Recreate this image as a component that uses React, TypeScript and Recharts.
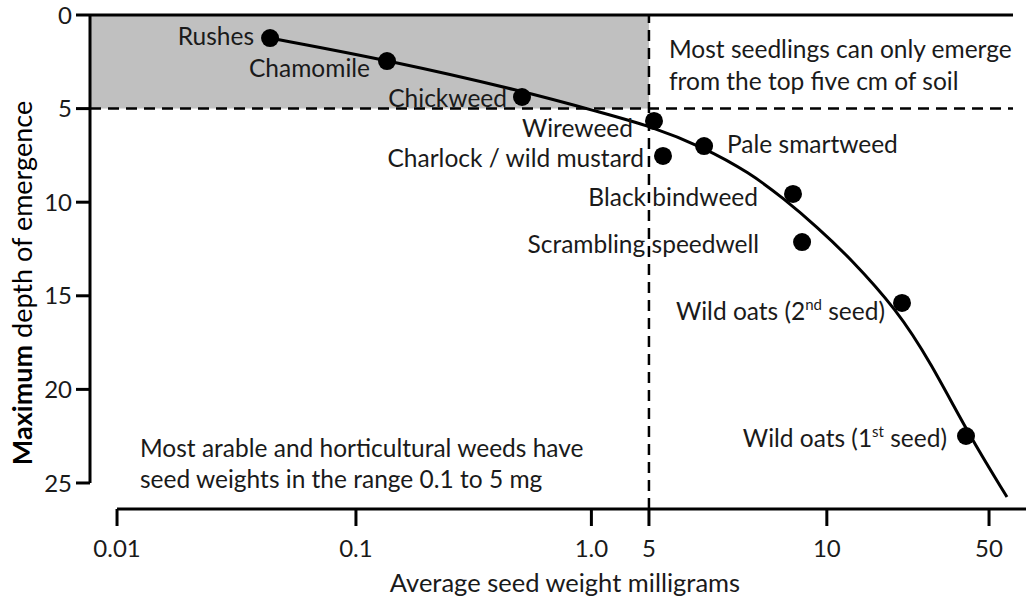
import React from 'react';
import { ComposedChart, Line, Scatter, XAxis, YAxis, ReferenceArea, ReferenceLine } from 'recharts';

// x is a position along the drawn (non-uniform) seed weight axis: 0 = 0.01 mg, 100 = 50 mg
const xTickPos = [0, 27.4, 54.4, 61.0, 81.4, 100];
const xTickLabels = ['0.01', '0.1', '1.0', '5', '10', '50'];
const yTicks = [0, 5, 10, 15, 20, 25];

const weedNames = [
  'Rushes',
  'Chamomile',
  'Chickweed',
  'Wireweed',
  'Charlock / wild mustard',
  'Pale smartweed',
  'Black bindweed',
  'Scrambling speedwell',
  'Wild oats (2nd seed)',
  'Wild oats (1st seed)',
];
const weedPos = [17.55, 30.96, 46.44, 61.58, 62.61, 67.32, 77.52, 78.56, 90.02, 97.36];
const weedDepth = [1.23, 2.46, 4.38, 5.66, 7.53, 7.0, 9.56, 12.13, 15.38, 22.49];

// fitted trend line
const curvePos = [17.55, 30.96, 46.56, 55.73, 61.12, 67.2, 72.59, 76.38, 80.28, 84.06, 89.45, 93.23, 97.82, 102.06];
const curveDepth = [1.23, 2.4, 4.06, 5.24, 5.93, 7.05, 8.44, 9.78, 11.32, 12.98, 15.76, 18.5, 22.54, 25.75];

const X_MIN = -3.1;
const X_MAX = 104.24;
const X_FRAME_END = 102.75;
const Y_MAX = 26.39;
const SHALLOW_DEPTH = 5;
const FIVE_MG = 61.0;

const weeds = weedNames.map((name, i) => ({ name, x: weedPos[i], y: weedDepth[i] }));
const curve = curvePos.map((x, i) => ({ x, y: curveDepth[i] }));

const FONT = 'Lato, "Open Sans", sans-serif';
const TEXT = '#1a1a1a';

// [gap from dot centre (negative = text on the right), baseline shift]
const labelPlace: Record<string, [number, number]> = {
  Rushes: [16, 7],
  Chamomile: [17, 16],
  Chickweed: [15, 10],
  Wireweed: [21, 16],
  'Charlock / wild mustard': [19, 11],
  'Pale smartweed': [-23, 7],
  'Black bindweed': [35, 12],
  'Scrambling speedwell': [43, 11],
  'Wild oats (2nd seed)': [17, 17],
  'Wild oats (1st seed)': [19, 11],
};

const renderName = (name: string) => {
  const m = name.match(/^(.*\d)(st|nd|rd|th)(.*)$/);
  if (!m) return name;
  return (
    <>
      {m[1]}
      <tspan dy={-10} fontSize={15}>{m[2]}</tspan>
      <tspan dy={10}>{m[3]}</tspan>
    </>
  );
};

const WeedDot = (props: any) => {
  const { cx, cy, payload } = props;
  const [gap, dy] = labelPlace[payload.name] ?? [16, 8];
  return (
    <g>
      <circle cx={cx} cy={cy} r={9} fill="#000" />
      <text
        x={cx - gap}
        y={cy + dy}
        textAnchor={gap < 0 ? 'start' : 'end'}
        fontFamily={FONT}
        fontSize={24.5}
        fill={TEXT}
      >
        {renderName(payload.name)}
      </text>
    </g>
  );
};

const tickFmt = (v: number) => xTickLabels[xTickPos.indexOf(v)] ?? '';

export default function App() {
  return (
    <div style={{ position: 'absolute', left: 0, top: 0, width: 1026, height: 604, background: '#fff' }}>
      <ComposedChart width={1026} height={604} margin={{ top: 15, right: 0, bottom: 35, left: 30 }}>
        <XAxis
          type="number"
          dataKey="x"
          domain={[X_MIN, X_MAX]}
          ticks={xTickPos}
          tickFormatter={tickFmt}
          allowDataOverflow
          axisLine={false}
          tickSize={17}
          tickMargin={14}
          height={60}
          tickLine={{ stroke: '#000', strokeWidth: 3 }}
          tick={{ fill: TEXT, fontSize: 24, fontFamily: FONT }}
        />
        <YAxis
          type="number"
          dataKey="y"
          domain={[0, Y_MAX]}
          reversed
          ticks={yTicks}
          allowDataOverflow
          axisLine={false}
          width={60}
          tickSize={14}
          tickMargin={4}
          tickLine={{ stroke: '#000', strokeWidth: 3 }}
          tick={{ fill: TEXT, fontSize: 24, fontFamily: FONT }}
        />
        <ReferenceArea x1={X_MIN} x2={FIVE_MG} y1={0} y2={SHALLOW_DEPTH} fill="#c0c0c0" fillOpacity={1} stroke="none" />
        <ReferenceLine segment={[{ x: X_MIN, y: 0 }, { x: X_FRAME_END, y: 0 }]} stroke="#000" strokeWidth={3} />
        <ReferenceLine segment={[{ x: X_MIN, y: 0 }, { x: X_MIN, y: 25 }]} stroke="#000" strokeWidth={3} />
        <ReferenceLine segment={[{ x: xTickPos[0], y: Y_MAX }, { x: X_MAX, y: Y_MAX }]} stroke="#000" strokeWidth={3} />
        <ReferenceLine
          segment={[{ x: X_MIN, y: SHALLOW_DEPTH }, { x: X_FRAME_END, y: SHALLOW_DEPTH }]}
          stroke="#000"
          strokeWidth={2.5}
          strokeDasharray="11 7"
        />
        <ReferenceLine x={FIVE_MG} stroke="#000" strokeWidth={2.5} strokeDasharray="11 7" />
        <Line
          data={curve}
          dataKey="y"
          type="basis"
          stroke="#000"
          strokeWidth={3}
          dot={false}
          activeDot={false}
          isAnimationActive={false}
        />
        <Scatter data={weeds} dataKey="y" shape={WeedDot} isAnimationActive={false} />

        <text fontFamily={FONT} fontSize={24.5} fill={TEXT}>
          <tspan x={669} y={58}>Most seedlings can only emerge</tspan>
          <tspan x={669} y={90}>from the top five cm of soil</tspan>
        </text>
        <text fontFamily={FONT} fontSize={24.5} fill={TEXT}>
          <tspan x={140} y={457}>Most arable and horticultural weeds have</tspan>
          <tspan x={140} y={488}>seed weights in the range 0.1 to 5 mg</tspan>
        </text>
        <text x={565} y={592} textAnchor="middle" fontFamily={FONT} fontSize={25.5} fill={TEXT}>
          Average seed weight milligrams
        </text>
        <text
          x={32}
          y={283}
          transform="rotate(-90, 32, 283)"
          textAnchor="middle"
          fontFamily={FONT}
          fontSize={27}
          fill="#000"
        >
          <tspan fontWeight="bold">Maximum</tspan> depth of emergence
        </text>
      </ComposedChart>
    </div>
  );
}
